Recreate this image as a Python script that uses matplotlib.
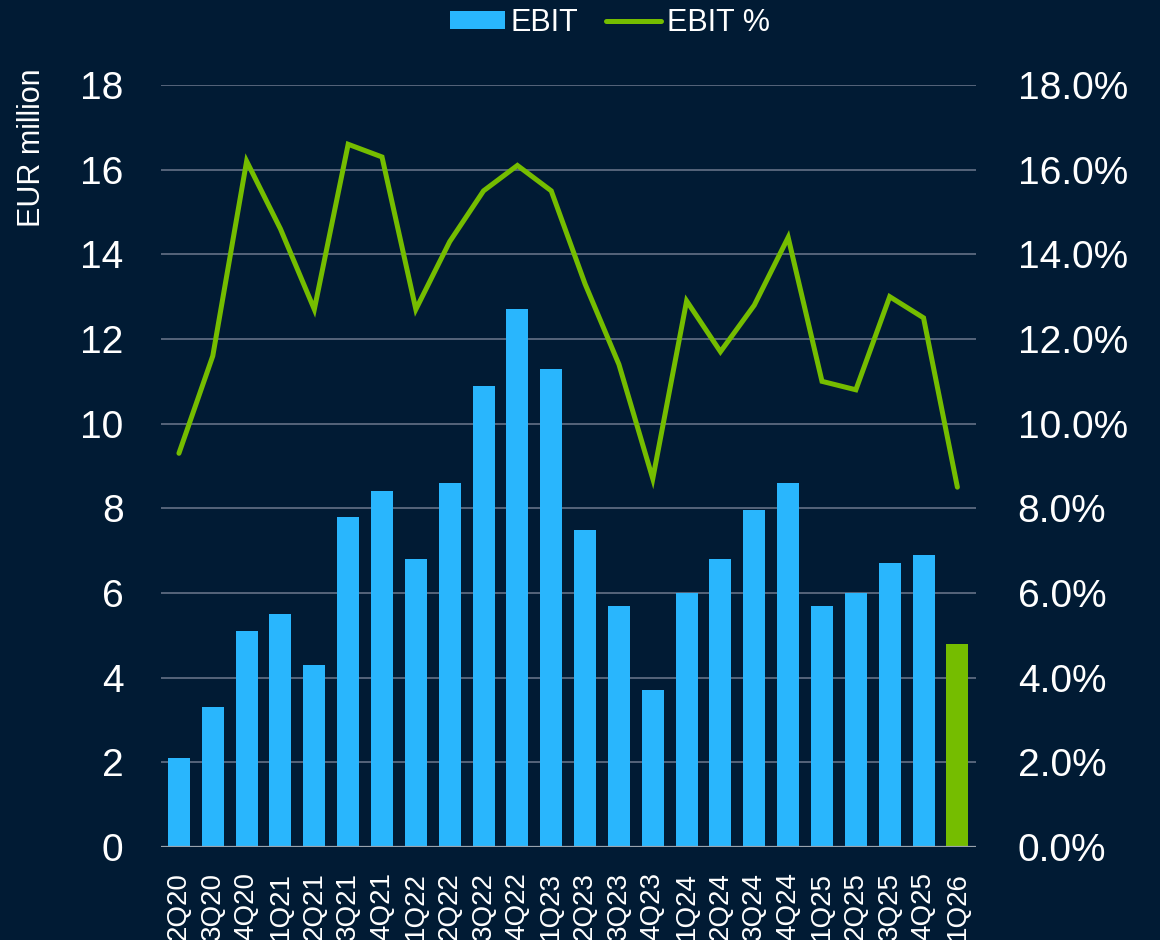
import matplotlib.pyplot as plt
import numpy as np
from matplotlib.ticker import FuncFormatter

plt.rcParams['font.family'] = ['Liberation Sans', 'DejaVu Sans']

quarters = ['2Q20', '3Q20', '4Q20', '1Q21', '2Q21', '3Q21', '4Q21', '1Q22',
            '2Q22', '3Q22', '4Q22', '1Q23', '2Q23', '3Q23', '4Q23', '1Q24',
            '2Q24', '3Q24', '4Q24', '1Q25', '2Q25', '3Q25', '4Q25', '1Q26']
ebit = [2.1, 3.3, 5.1, 5.5, 4.3, 7.8, 8.4, 6.8,
        8.6, 10.9, 12.7, 11.3, 7.5, 5.7, 3.7, 6.0,
        6.8, 7.95, 8.6, 5.7, 6.0, 6.7, 6.9, 4.8]
ebit_pct = [9.3, 11.6, 16.2, 14.6, 12.7, 16.6, 16.3, 12.7,
            14.3, 15.5, 16.1, 15.5, 13.3, 11.4, 8.7, 12.9,
            11.7, 12.8, 14.4, 11.0, 10.8, 13.0, 12.5, 8.5]

bg = '#011b34'
blue = '#29b6fd'
green = '#75bd00'
grid_col = '#56657a'

fig = plt.figure(figsize=(11.6, 9.4), dpi=100, facecolor=bg)
ax = fig.add_axes([161 / 1160, 1 - 847 / 940, (976 - 161) / 1160, (847 - 85) / 940])
ax.set_facecolor(bg)
ax2 = ax.twinx()

x = np.arange(len(quarters))
colors = [blue] * (len(quarters) - 1) + [green]
ax.bar(x, ebit, width=0.65, color=colors, zorder=3, label='EBIT')
ln, = ax2.plot(x, ebit_pct, color=green, lw=3.6, solid_capstyle='round',
               solid_joinstyle='miter', label='EBIT %', zorder=4)

ax.set_ylim(0, 18)
ax2.set_ylim(0, 18)
ax.set_xlim(-0.53, len(quarters) - 0.45)
ax.set_yticks(np.arange(0, 19, 2))
ax2.set_yticks(np.arange(0, 19, 2))
ax2.yaxis.set_major_formatter(FuncFormatter(lambda v, p: f'{v:.1f}%'))

ax.grid(axis='y', color=grid_col, lw=1.4, zorder=0)
ax.set_axisbelow(True)
for a in (ax, ax2):
    for s in a.spines.values():
        s.set_visible(False)
ax.axhline(0, color='#9aa3ad', lw=1.6, zorder=5)

ax.set_xticks(x)
ax.set_xticklabels(quarters, rotation=90, va='top', ha='center')
ax.tick_params(axis='x', length=0, pad=18, labelsize=20, colors='white')
ax.tick_params(axis='y', length=0, pad=27, labelsize=28, colors='white')
ax2.tick_params(axis='y', length=0, pad=30, labelsize=28, colors='white')

fig.text(32 / 1160, 1 - 148 / 940, 'EUR million', rotation=90, color='white',
         fontsize=22, ha='center', va='center')

h1, l1 = ax.get_legend_handles_labels()
leg = fig.legend(h1 + [ln], l1 + ['EBIT %'], loc='center', ncol=2,
                 bbox_to_anchor=(610 / 1160, 1 - 23 / 940), frameon=False,
                 fontsize=22, labelcolor='white', handlelength=1.8,
                 handleheight=0.55, handletextpad=0.2, columnspacing=0.9)

fig.savefig('out.png', dpi=100, facecolor=bg)
